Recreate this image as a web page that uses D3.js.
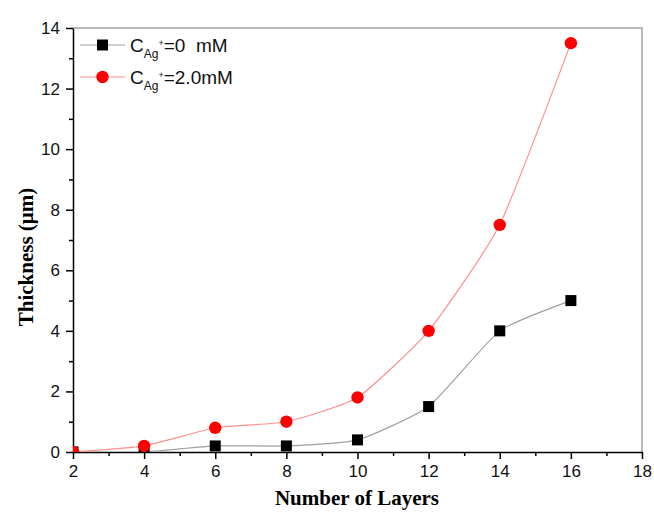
<!DOCTYPE html>
<html>
<head>
<meta charset="utf-8">
<script src="https://cdn.jsdelivr.net/npm/d3@7"></script>
<style>
  body { margin: 0; background: #fff; }
  svg { display: block; }
  text { white-space: pre; }
</style>
</head>
<body>
<svg id="chart" width="654" height="515"></svg>
<script>
// datos
var layers = [2, 4, 6, 8, 10, 12, 14, 16];
var thick0 = [0, 0, 0.2, 0.2, 0.4, 1.5, 4.0, 5.0];      // C Ag+ = 0 mM
var thick2 = [0, 0.2, 0.8, 1.0, 1.8, 4.0, 7.5, 13.5];   // C Ag+ = 2.0 mM
var xTicks = [2, 4, 6, 8, 10, 12, 14, 16, 18];
var yTicks = [0, 2, 4, 6, 8, 10, 12, 14];

var margin = {top: 28, right: 12, bottom: 63, left: 73};
var width = 654 - margin.left - margin.right,
    height = 515 - margin.top - margin.bottom;

var svg = d3.select("#chart");
var g = svg.append("g").attr("transform", "translate(" + margin.left + "," + margin.top + ")");

var x = d3.scaleLinear().domain([2, 18]).range([0, width]);
var y = d3.scaleLinear().domain([0, 14]).range([height, 0]);

g.append("clipPath").attr("id", "clip")
  .append("rect").attr("width", width).attr("height", height);

// marco gris arriba y a la derecha
g.append("path")
  .attr("d", "M0,0H" + width + "V" + height)
  .attr("fill", "none").attr("stroke", "#b8b8b8").attr("stroke-width", 2);

// ticks menores
g.append("g").attr("transform", "translate(0," + height + ")")
  .call(d3.axisBottom(x).tickValues(d3.range(3, 18, 2)).tickSize(4).tickFormat(""))
  .call(function(a) { a.select(".domain").remove(); a.selectAll("line").attr("stroke-width", 1.5); });
g.append("g")
  .call(d3.axisLeft(y).tickValues(d3.range(1, 14, 2)).tickSize(4).tickFormat(""))
  .call(function(a) { a.select(".domain").remove(); a.selectAll("line").attr("stroke-width", 1.5); });

// ejes principales
var xAxis = g.append("g").attr("transform", "translate(0," + height + ")")
  .call(d3.axisBottom(x).tickValues(xTicks).tickSize(7).tickSizeOuter(0).tickPadding(6));
var yAxis = g.append("g")
  .call(d3.axisLeft(y).tickValues(yTicks).tickSize(7).tickSizeOuter(0).tickPadding(6));
[xAxis, yAxis].forEach(function(a) {
  a.select(".domain").attr("stroke-width", 1.5);
  a.selectAll("line").attr("stroke-width", 1.5);
  a.selectAll("text").attr("font-family", "Liberation Sans, Arial, sans-serif")
    .attr("font-size", 17).attr("fill", "#111");
});

// series
var series = [
  {vals: thick0, line: "#a0a0a0", fill: "#000", shape: "square"},
  {vals: thick2, line: "#ff9090", fill: "#ff0000", shape: "circle"}
];

var plot = g.append("g").attr("clip-path", "url(#clip)");

series.forEach(function(s) {
  var pts = layers.map(function(d, i) { return {x: d, y: s.vals[i]}; });
  var line = d3.line()
    .x(function(d) { return x(d.x); })
    .y(function(d) { return y(d.y); })
    .curve(d3.curveCardinal.tension(0.5));
  plot.append("path").datum(pts)
    .attr("d", line).attr("fill", "none")
    .attr("stroke", s.line).attr("stroke-width", 1.2);
});

series.forEach(function(s) {
  var pts = layers.map(function(d, i) { return {x: d, y: s.vals[i]}; });
  if (s.shape == "square") {
    plot.selectAll(null).data(pts).enter().append("rect")
      .attr("x", function(d) { return x(d.x) - 5.5; })
      .attr("y", function(d) { return y(d.y) - 5.5; })
      .attr("width", 11).attr("height", 11)
      .attr("fill", s.fill);
  } else {
    plot.selectAll(null).data(pts).enter().append("circle")
      .attr("cx", function(d) { return x(d.x); })
      .attr("cy", function(d) { return y(d.y); })
      .attr("r", 6.2)
      .attr("fill", s.fill);
  }
});

// leyenda
var legend = g.append("g").attr("font-family", "Liberation Sans, Arial, sans-serif").attr("fill", "#111");
var labels = [
  {main: "=0  mM", s: series[0]},
  {main: "=2.0mM", s: series[1]}
];
labels.forEach(function(l, i) {
  var ly = 17 + i * 32;
  var row = legend.append("g").attr("transform", "translate(0," + ly + ")");
  row.append("line").attr("x1", 7).attr("x2", 52).attr("y1", 0).attr("y2", 0)
    .attr("stroke", l.s.line).attr("stroke-width", 1.2);
  if (l.s.shape == "square")
    row.append("rect").attr("x", 24).attr("y", -5.5).attr("width", 11).attr("height", 11).attr("fill", l.s.fill);
  else
    row.append("circle").attr("cx", 29.5).attr("cy", 0).attr("r", 6.2).attr("fill", l.s.fill);
  var t = row.append("text").attr("x", 57).attr("y", 7).attr("font-size", 19);
  t.append("tspan").text("C");
  t.append("tspan").attr("font-size", 12).attr("dy", 6).text("Ag");
  t.append("tspan").attr("font-size", 9).attr("dy", -12).text("+");
  t.append("tspan").attr("dy", 6).text(l.main);
});

// titulos de ejes
svg.append("text")
  .attr("x", 357).attr("y", 505)
  .attr("text-anchor", "middle")
  .attr("font-family", "Liberation Serif, Times New Roman, serif")
  .attr("font-weight", "bold").attr("font-size", 21)
  .text("Number of Layers");
svg.append("text")
  .attr("transform", "translate(33,257) rotate(-90)")
  .attr("text-anchor", "middle")
  .attr("font-family", "Liberation Serif, Times New Roman, serif")
  .attr("font-weight", "bold").attr("font-size", 21)
  .text("Thickness (μm)");
</script>
</body>
</html>
